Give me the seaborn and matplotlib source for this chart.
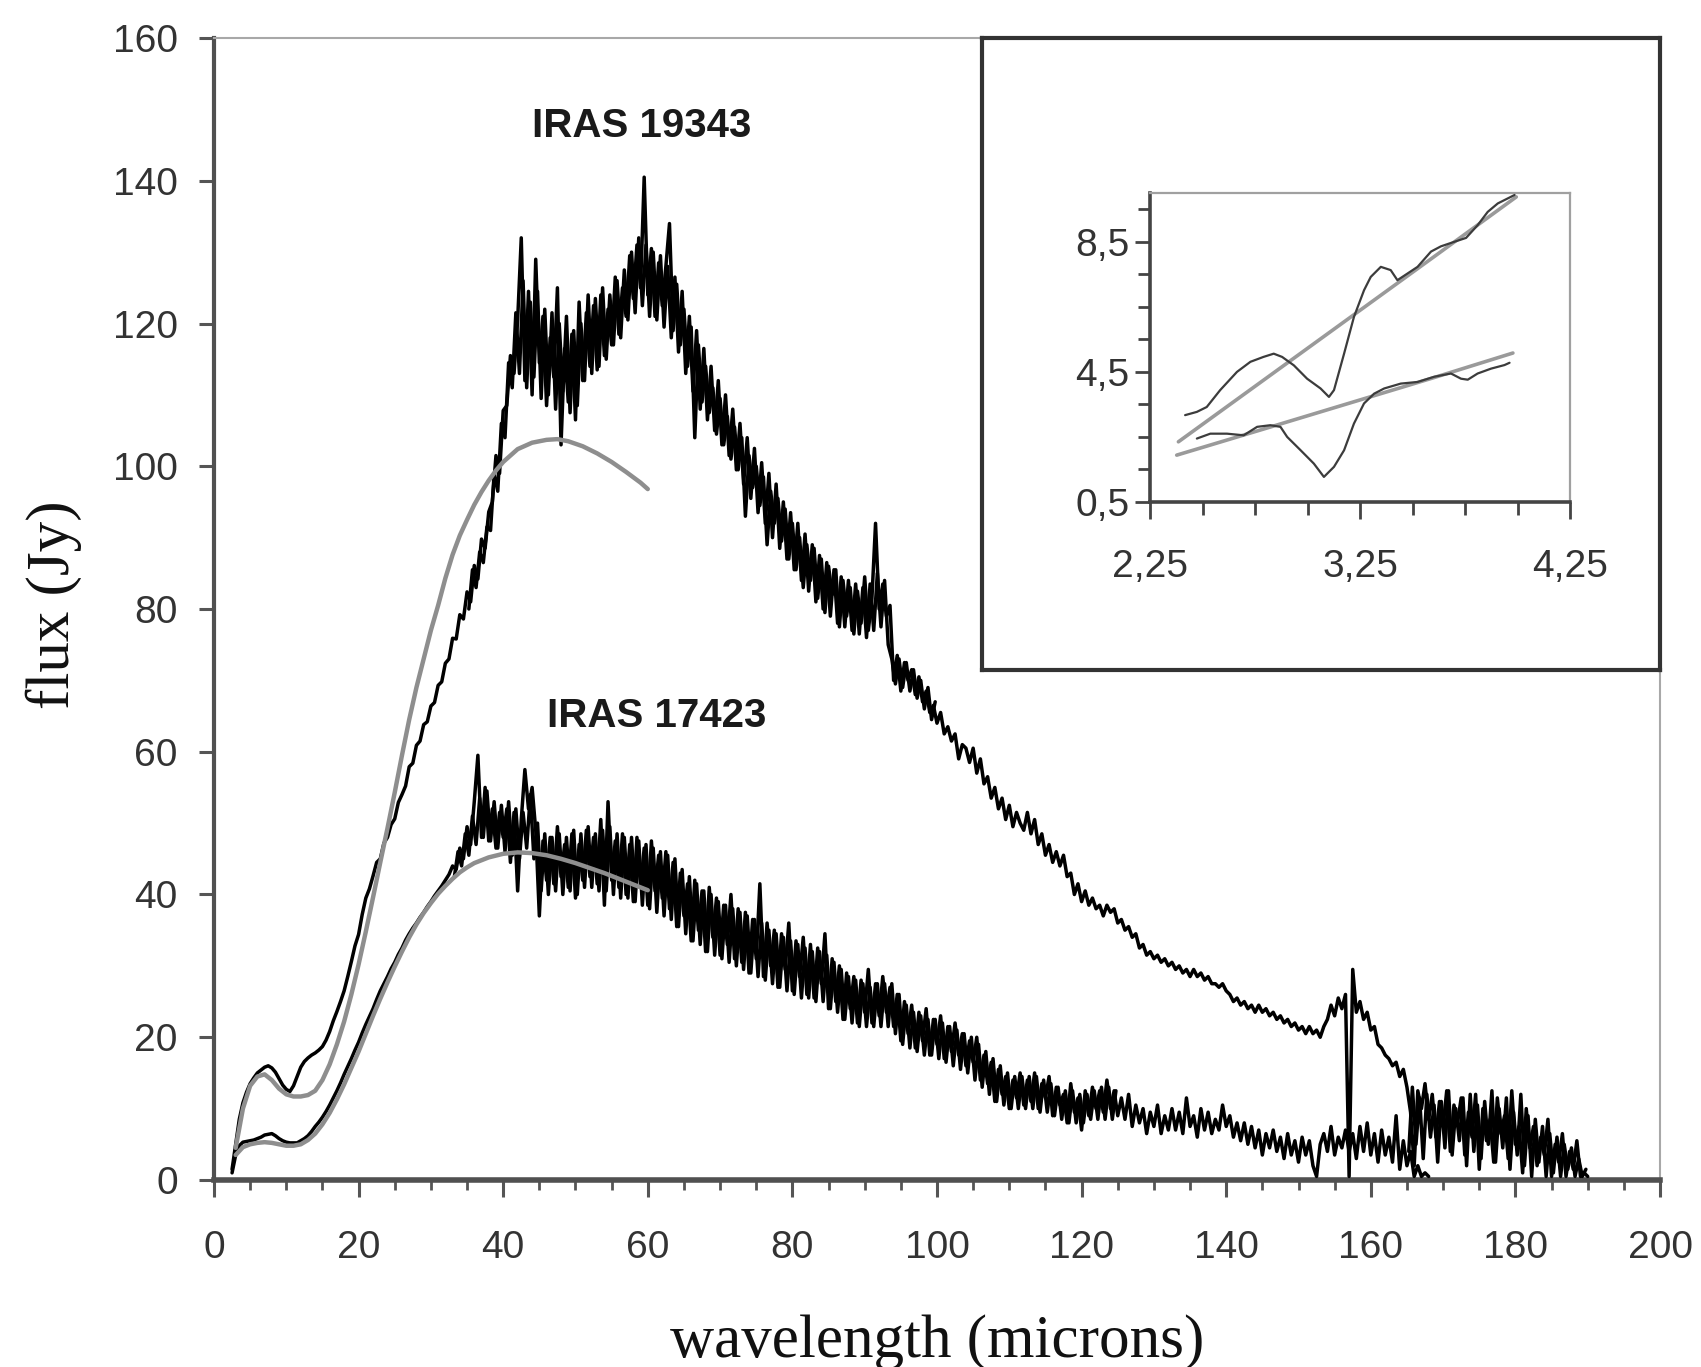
import numpy as np
import pandas as pd
import matplotlib
matplotlib.use("Agg")
import matplotlib.pyplot as plt
import seaborn as sns
from matplotlib.ticker import FixedLocator, FixedFormatter, NullFormatter
from matplotlib import font_manager

# ---------------- data ----------------
# IRAS 19343 spectrum, sampled every 0.5 micron starting at 2.5 micron
WAVE_START = 2.5
WAVE_STEP = 0.5
flux_19343 = [
    1.5, 5.0, 8.5, 10.8, 12.3, 13.5, 14.3, 15.0, 15.4, 15.8, 16.0, 15.7, 15.1, 14.2, 13.3, 12.7, 12.4, 13.2, 14.5, 15.8,
    16.6, 17.1, 17.5, 17.8, 18.2, 18.7, 19.6, 20.8, 22.3, 23.6, 25.0, 26.5, 28.5, 30.6, 32.8, 34.4, 37.2, 39.5, 40.8, 42.6,
    44.5, 45.0, 47.2, 48.0, 49.8, 50.6, 52.9, 54.0, 55.2, 57.9, 58.4, 60.9, 61.5, 63.8, 64.2, 66.4, 66.9, 69.3, 69.8, 72.4,
    73.0, 75.9, 75.8, 79.2, 78.6, 82.4, 81.0, 86.1, 84.2, 89.8, 88.5, 93.6, 95.0, 101.5, 99.0, 107.8, 108.5, 115.5, 113.0, 120.5,
    132.0, 112.0, 124.5, 110.0, 129.0, 114.5, 121.0, 108.5, 118.0, 112.5, 125.0, 103.0, 116.5, 109.0, 118.5, 106.5, 123.0, 112.0, 121.5, 114.0,
    122.5, 113.5, 124.0, 115.5, 122.0, 117.0, 126.5, 118.5, 125.0, 121.0, 129.5, 123.5, 131.0, 125.0, 140.5, 124.0, 130.5, 121.0, 128.5, 122.5,
    128.0, 134.0, 119.0, 125.5, 117.0, 122.0, 114.0, 119.5, 104.0, 117.0, 109.0, 114.0, 107.5, 111.0, 104.5, 109.5, 103.0, 107.0, 101.0, 105.5,
    99.5, 104.0, 93.0, 101.5, 97.0, 100.0, 94.5, 98.5, 89.0, 96.5, 92.0, 95.5, 89.5, 94.0, 87.0, 92.0, 85.5, 90.0, 83.0, 89.0,
    84.0, 88.5, 81.5, 87.0, 79.5, 86.0, 82.0, 85.5, 77.5, 84.0, 79.0, 83.0, 76.5, 82.5, 78.0, 84.5, 77.0, 81.5, 92.0, 80.0,
    83.5, 79.0, 80.5, 70.0, 73.5, 68.5, 72.5, 70.0, 71.5, 68.0, 70.5, 67.0, 68.5, 65.5, 66.5, 64.0, 65.5, 62.5, 63.5, 61.5,
    62.5, 59.0, 61.0, 60.5, 58.5, 60.5, 57.0, 59.0, 55.5, 56.5, 53.5, 55.0, 52.0, 53.5, 50.5, 52.5, 49.5, 51.5, 50.0, 49.0,
    51.5, 48.5, 50.5, 47.0, 48.5, 45.5, 47.0, 44.5, 46.0, 44.0, 45.5, 42.5, 43.0, 40.0, 41.5, 39.0, 40.5, 38.5, 39.5, 38.0,
    38.5, 37.0, 38.5, 37.5, 38.0, 36.0, 36.5, 35.0, 35.5, 34.0, 34.5, 32.5, 33.0, 31.5, 32.0, 31.0, 31.5, 30.5, 31.0, 30.0,
    30.5, 29.5, 30.0, 29.0, 29.5, 28.5, 29.5, 28.5, 29.0, 28.0, 28.5, 27.5, 27.5, 27.0, 27.5, 26.5, 26.0, 25.0, 25.5, 24.5,
    25.0, 24.0, 24.5, 23.5, 24.5, 23.5, 24.0, 23.0, 23.5, 22.5, 23.0, 22.0, 22.5, 21.5, 22.0, 21.0, 21.5, 20.5, 21.5, 20.5,
    21.0, 20.0, 21.5, 22.5, 24.5, 23.0, 25.5, 24.0, 26.0, 0.5, 29.5, 23.5, 25.0, 22.5, 23.5, 21.0, 21.5, 19.0, 18.5, 17.5,
    17.0, 16.0, 16.5, 14.5, 15.5, 13.0, 9.5, 2.0, 12.5, 10.0, 13.5, 8.5, 12.0, 6.0, 11.0, 7.5, 12.5, 4.0, 10.5, 8.0,
    11.5, 3.5, 9.5, 6.0, 12.0, 1.5, 10.0, 5.5, 8.5, 2.5, 11.5, 6.5, 9.0, 3.0, 12.5, 5.0, 7.5, 1.0, 10.0, 4.5,
    7.5, 2.0, 6.0, 3.5, 8.5, 0.5, 5.0, 2.5, 6.5, 0.5, 4.0, 1.5, 5.5, 0.5, 1.0, 0.5,
]
# second (interleaved) scan of IRAS 19343 in the noisy ranges
SCAN2_19343_A_START = 35.25
scan2_19343_a = [
    80.0, 85.5, 83.0, 88.0, 86.5, 91.5, 91.0, 99.0, 96.5, 106.0, 104.0, 114.5, 111.0, 121.5, 113.0, 126.0, 111.0, 123.0, 112.5, 124.5,
    109.5, 122.0, 110.0, 121.5, 108.0, 120.0, 110.5, 121.0, 107.5, 119.0, 108.5, 120.0, 112.0, 124.0, 113.0, 123.5, 114.0, 125.0, 115.0, 124.0,
    117.0, 126.0, 118.0, 127.5, 120.5, 130.0, 121.5, 132.0, 122.5, 131.0, 121.0, 130.0, 120.5, 129.5, 119.5, 128.0, 118.0, 126.5, 116.0, 124.5,
    113.0, 121.0, 110.5, 119.0, 108.0, 116.5, 106.5, 114.0, 105.0, 112.0, 103.0, 110.0, 101.5, 108.0, 99.5, 106.0, 97.5, 104.0, 95.5, 102.5,
    93.5, 100.5, 92.0, 99.0, 90.0, 97.5, 88.5, 95.0, 87.0, 93.5, 85.5, 92.0, 84.0, 90.5, 82.5, 89.0, 81.0, 87.5, 80.0, 86.5,
    79.0, 85.5, 78.0, 84.5, 77.5, 84.0, 77.0, 83.5, 76.5, 83.0, 76.0, 83.5, 77.0, 85.0, 77.5, 84.0, 75.0, 73.0, 69.5, 73.0,
    69.0, 72.5, 68.5, 71.5, 67.5, 70.0, 66.0, 69.0, 64.5, 67.0,
]
SCAN2_19343_B_START = 165.25
scan2_19343_b = [
    4.0, 13.0, 5.0, 11.5, 3.0, 12.0, 6.0, 10.5, 2.5, 11.0, 4.5, 12.5, 3.5, 10.0, 5.5, 11.5, 2.0, 12.0, 4.0, 10.5,
    3.0, 11.0, 5.0, 12.5, 2.5, 10.0, 4.5, 11.5, 1.5, 9.5, 3.5, 12.0, 2.0, 9.0, 0.5, 8.5, 2.5, 7.5, 0.5, 6.5,
    1.0, 6.0, 0.5, 5.0, 1.5, 4.5, 0.5, 3.0, 0.5, 1.5,
]

# IRAS 17423 spectrum, same sampling
flux_17423 = [
    1.0, 3.5, 4.8, 5.3, 5.4, 5.5, 5.6, 5.8, 6.0, 6.3, 6.4, 6.5, 6.2, 5.8, 5.5, 5.3, 5.2, 5.2, 5.2, 5.5,
    5.8, 6.2, 6.8, 7.5, 8.1, 8.8, 9.6, 10.5, 11.5, 12.5, 13.6, 14.8, 15.9, 17.0, 18.2, 19.3, 20.6, 21.8, 22.9, 24.0,
    25.3, 26.5, 27.5, 28.5, 29.6, 30.5, 31.6, 32.5, 33.6, 34.5, 35.3, 36.0, 36.8, 37.5, 38.3, 39.0, 39.8, 40.5, 41.2, 42.0,
    42.8, 44.0, 43.5, 46.5, 45.0, 49.5, 47.0, 53.0, 59.5, 48.0, 55.0, 47.5, 52.0, 46.5, 51.5, 48.0, 52.0, 44.5, 51.5, 40.5,
    50.5, 57.5, 52.0, 55.0, 49.0, 37.0, 47.5, 42.0, 48.0, 41.5, 49.5, 42.5, 47.0, 41.0, 48.5, 39.5, 47.0, 42.0, 49.0, 42.5,
    48.0, 41.5, 50.5, 38.5, 53.0, 42.0, 47.5, 41.0, 48.5, 40.0, 47.0, 39.0, 48.0, 41.0, 46.5, 38.5, 47.5, 40.5, 45.5, 39.5,
    46.0, 38.0, 44.5, 35.5, 43.0, 37.0, 41.5, 33.5, 42.0, 35.0, 40.5, 32.0, 41.0, 34.0, 39.5, 31.5, 38.5, 33.0, 40.0, 31.0,
    38.0, 30.5, 37.5, 29.0, 36.5, 31.0, 41.5, 28.5, 36.0, 30.0, 35.0, 27.0, 34.5, 29.5, 36.0, 26.5, 33.5, 28.5, 34.0, 26.0,
    33.0, 25.5, 32.5, 27.5, 34.5, 24.0, 31.0, 25.0, 30.0, 22.5, 29.0, 24.0, 28.5, 22.0, 28.0, 23.5, 29.5, 22.0, 27.5, 23.0,
    28.5, 23.5, 27.0, 21.5, 26.0, 19.5, 25.0, 20.5, 24.5, 18.5, 23.5, 19.5, 24.0, 17.5, 22.5, 19.0, 23.0, 17.0, 21.5, 18.0,
    22.0, 17.5, 20.5, 16.0, 19.5, 16.5, 20.0, 14.0, 17.5, 13.5, 16.5, 11.0, 15.5, 12.0, 14.5, 10.0, 14.0, 11.5, 15.0, 10.5,
    14.0, 11.0, 15.0, 10.0, 13.5, 11.5, 14.5, 9.0, 13.0, 10.5, 12.0, 8.0, 13.5, 9.5, 11.5, 7.0, 12.5, 9.0, 13.0, 10.0,
    12.5, 9.5, 14.0, 10.0, 12.5, 9.0, 11.5, 8.5, 12.0, 7.5, 10.5, 8.0, 10.0, 6.5, 9.5, 7.5, 10.5, 6.5, 9.0, 7.0,
    10.0, 7.0, 9.5, 6.5, 11.5, 7.5, 9.0, 6.0, 10.0, 7.0, 9.5, 6.5, 8.5, 7.0, 10.5, 7.5, 9.0, 6.0, 8.0, 5.5,
    8.0, 5.0, 7.5, 4.5, 7.0, 3.5, 6.5, 4.5, 7.0, 4.0, 6.0, 3.0, 6.5, 3.5, 5.5, 2.5, 6.0, 3.5, 5.5, 2.0,
    0.5, 5.0, 6.5, 4.0, 7.5, 3.5, 6.0, 4.5, 7.0, 4.0, 6.5, 3.0, 7.5, 4.0, 8.0, 3.5, 6.5, 2.5, 7.0, 3.5,
    6.0, 2.5, 9.0, 1.5, 5.5, 2.0, 4.0, 0.5, 2.0, 0.5, 1.0, 0.5,
]
# second (interleaved) scan of IRAS 17423 in the noisy range
SCAN2_17423_START = 33.25
scan2_17423 = [
    42.5, 46.0, 44.0, 48.5, 45.5, 51.0, 47.0, 53.5, 48.0, 54.5, 47.5, 53.0, 46.5, 52.5, 46.0, 53.0, 45.5, 52.0, 45.0, 51.5,
    46.5, 54.0, 45.0, 50.0, 40.5, 48.5, 40.0, 48.0, 40.5, 48.5, 40.0, 48.0, 40.5, 49.0, 40.0, 48.5, 41.0, 49.5, 41.0, 48.5,
    40.5, 49.0, 40.5, 49.5, 40.0, 48.5, 39.5, 48.0, 39.5, 48.0, 39.0, 47.5, 38.5, 47.0, 38.0, 46.5, 37.5, 46.0, 37.0, 45.5,
    36.5, 45.0, 35.5, 43.5, 34.5, 42.5, 33.5, 41.5, 33.0, 40.5, 32.0, 40.0, 31.5, 39.0, 31.0, 38.5, 30.5, 38.0, 30.0, 37.5,
    29.5, 37.0, 29.0, 36.5, 28.5, 36.0, 28.0, 35.0, 27.5, 34.5, 27.0, 34.0, 26.5, 33.5, 26.0, 33.0, 25.5, 32.5, 25.5, 32.0,
    25.0, 32.0, 25.0, 31.5, 24.0, 30.5, 23.5, 29.5, 22.5, 28.5, 22.0, 28.0, 21.5, 27.5, 21.5, 27.0, 21.5, 27.5, 21.5, 27.5,
    21.5, 27.5, 20.5, 26.0, 19.0, 24.5, 18.5, 23.5, 18.0, 23.0, 17.5, 22.5, 17.5, 22.5, 17.0, 22.0, 16.5, 21.5, 16.0, 21.0,
    15.5, 20.5, 15.0, 20.0, 14.0, 19.0, 13.0, 18.0, 12.0, 17.0, 11.0, 16.0, 10.5, 15.0, 10.0, 14.5, 10.0, 14.5, 10.0, 14.5,
    10.0, 14.5, 9.5, 14.0, 9.5, 13.5, 9.0, 13.0, 8.5, 12.5, 8.0, 12.5, 8.0, 12.0, 8.0, 12.0, 8.5, 12.5, 8.5, 13.0,
    8.5, 13.0, 8.5, 12.5,
]

# model curves (grey)
model_19343_wave = [3, 4, 5, 6, 7, 8, 9, 10, 11, 12, 13, 14, 15, 16, 17, 18, 19, 20, 21, 22,
                    23, 24, 25, 26, 27, 28, 29, 30, 31, 32, 33, 34, 35, 36, 37, 38, 39, 40,
                    42, 44, 46, 47.5, 49, 51, 53, 55, 57, 59, 60]
model_19343_flux = [4.5, 10.0, 13.2, 14.5, 14.8, 14.0, 12.8, 12.0, 11.7, 11.7,
                    11.9, 12.5, 14.0, 16.2, 19.0, 22.2, 26.0, 30.2, 34.8, 39.6,
                    44.5, 49.3, 54.3, 59.5, 64.5, 69.0, 73.0, 77.0, 80.5, 84.3,
                    87.6, 90.3, 92.5, 94.6, 96.4, 98.0, 99.4, 100.6,
                    102.4, 103.3, 103.7, 103.8, 103.5, 102.8, 101.8, 100.6, 99.2, 97.7, 96.8]

model_17423_wave = [3, 4, 5, 6, 7, 8, 9, 10, 11, 12, 13, 14, 15, 16, 17, 18, 19, 20, 21, 22,
                    23, 24, 25, 26, 27, 28, 29, 30, 31, 32, 33, 34, 35, 36,
                    38, 40, 42, 44, 46, 48, 50, 52, 54, 56, 58, 60]
model_17423_flux = [3.5, 4.6, 5.0, 5.2, 5.3, 5.2, 5.0, 4.8, 4.8, 5.0,
                    5.6, 6.5, 7.8, 9.4, 11.3, 13.4, 15.7, 18.0, 20.5, 23.0,
                    25.4, 27.7, 29.9, 32.0, 34.0, 35.8, 37.4, 38.8, 40.1, 41.2,
                    42.2, 43.1, 43.8, 44.4,
                    45.2, 45.7, 45.9, 45.8, 45.5, 45.0, 44.4, 43.7, 43.0, 42.2, 41.4, 40.6]

# inset (near-IR detail)
inset_up_wave = [2.417, 2.473, 2.52, 2.584, 2.664, 2.728, 2.79, 2.839, 2.879, 2.935, 2.998, 3.062,
                 3.102, 3.126, 3.174, 3.221, 3.269, 3.301, 3.349, 3.396, 3.428, 3.524, 3.588,
                 3.635, 3.699, 3.755, 3.81, 3.858, 3.906, 3.986]
inset_up_flux = [3.17, 3.27, 3.42, 3.94, 4.5, 4.81, 4.96, 5.06, 4.96, 4.7, 4.29, 3.99,
                 3.73, 3.94, 5.06, 6.19, 7.01, 7.42, 7.73, 7.63, 7.32, 7.73, 8.2,
                 8.36, 8.5, 8.62, 9.01, 9.42, 9.68, 9.94]
inset_low_wave = [2.473, 2.537, 2.616, 2.696, 2.76, 2.823, 2.871, 2.903, 2.967, 3.03, 3.078, 3.126,
                  3.174, 3.221, 3.269, 3.317, 3.365, 3.444, 3.524, 3.603, 3.683, 3.731, 3.763,
                  3.81, 3.874, 3.938, 3.962]
inset_low_flux = [2.45, 2.6, 2.6, 2.55, 2.81, 2.86, 2.81, 2.5, 2.09, 1.68, 1.27, 1.58,
                  2.09, 2.91, 3.53, 3.83, 3.99, 4.14, 4.19, 4.35, 4.45, 4.29, 4.26,
                  4.45, 4.6, 4.71, 4.78]
inset_model_up_wave = [2.385, 2.8, 3.2, 3.6, 3.994]
inset_model_up_flux = [2.35, 4.29, 6.16, 8.03, 9.88]
inset_model_low_wave = [2.377, 2.8, 3.2, 3.6, 3.978]
inset_model_low_flux = [1.94, 2.76, 3.54, 4.32, 5.08]

x_major = [0, 20, 40, 60, 80, 100, 120, 140, 160, 180, 200]
y_major = [0, 20, 40, 60, 80, 100, 120, 140, 160]
inset_x_major = [2.25, 3.25, 4.25]
inset_x_labels = ["2,25", "3,25", "4,25"]
inset_y_major = [0.5, 4.5, 8.5]
inset_y_labels = ["0,5", "4,5", "8,5"]

# ---------------- styling ----------------
sns.set_theme(style="white")
available = {f.name for f in font_manager.fontManager.ttflist}
if "Liberation Sans Narrow" in available:
    TICK_FAMILY = ["Liberation Sans Narrow", "DejaVu Sans"]
    TICK_SIZE = 32
else:
    TICK_FAMILY = ["Liberation Sans", "DejaVu Sans"]
    TICK_SIZE = 28
SANS = ["Liberation Sans", "DejaVu Sans"]
SERIF = ["Liberation Serif", "DejaVu Serif"]
plt.rcParams["font.family"] = SANS


def series(start, values):
    return pd.DataFrame({"wave": start + WAVE_STEP * np.arange(len(values)), "flux": values})


spectra = [
    series(WAVE_START, flux_17423),
    series(SCAN2_17423_START, scan2_17423),
    series(WAVE_START, flux_19343),
    series(SCAN2_19343_A_START, scan2_19343_a),
    series(SCAN2_19343_B_START, scan2_19343_b),
]

fig = plt.figure(figsize=(17.01, 13.67), dpi=100)
ax = fig.add_axes([0.1258, 0.1368, 0.8501, 0.8354])

for df in spectra:
    sns.lineplot(data=df, x="wave", y="flux", ax=ax, color="black", linewidth=2.5,
                 estimator=None, sort=False, legend=False, zorder=3)
sns.lineplot(x=model_19343_wave, y=model_19343_flux, ax=ax, color="#8e8e8e", linewidth=3.2,
             estimator=None, sort=False, legend=False, zorder=4)
sns.lineplot(x=model_17423_wave, y=model_17423_flux, ax=ax, color="#8e8e8e", linewidth=3.2,
             estimator=None, sort=False, legend=False, zorder=4)

ax.set_xlim(0, 200)
ax.set_ylim(0, 160)
ax.xaxis.set_major_locator(FixedLocator(x_major))
ax.xaxis.set_minor_locator(FixedLocator([v for v in range(5, 200, 5) if v % 20 != 0]))
ax.yaxis.set_major_locator(FixedLocator(y_major))
ax.set_xlabel("")
ax.set_ylabel("")
ax.tick_params(axis="x", which="major", direction="out", length=12, width=2.2, color="#555555",
               pad=24, labelsize=TICK_SIZE, labelcolor="#333333", bottom=True)
ax.tick_params(axis="x", which="minor", direction="out", length=7, width=2.0, color="#555555", bottom=True)
ax.tick_params(axis="y", which="major", direction="out", length=11, width=2.2, color="#555555",
               pad=15, labelsize=TICK_SIZE, labelcolor="#333333", left=True)
for lab in ax.get_xticklabels() + ax.get_yticklabels():
    lab.set_fontfamily(TICK_FAMILY)

for side in ["left", "bottom"]:
    ax.spines[side].set_color("#505050")
ax.spines["left"].set_linewidth(3.0)
ax.spines["bottom"].set_linewidth(4.0)
for side in ["top", "right"]:
    ax.spines[side].set_color("#a8a8a8")
    ax.spines[side].set_linewidth(1.5)
ax.grid(False)

ax.text(59.2, 147.7, "IRAS 19343", ha="center", va="center", fontsize=29,
        fontweight="bold", color="#1a1a1a", family=SANS, zorder=5)
ax.text(61.2, 65.0, "IRAS 17423", ha="center", va="center", fontsize=29,
        fontweight="bold", color="#1a1a1a", family=SANS, zorder=5)

fig.text(0.551, 0.018, "wavelength (microns)", ha="center", va="center",
         fontsize=44, family=SERIF, color="#111111")
fig.text(0.0318, 0.5574, "flux (Jy)", ha="center", va="center", rotation=90,
         fontsize=44, family=SERIF, color="#111111")

# ---------------- inset frame ----------------
box = fig.add_axes([0.5773, 0.5099, 0.3986, 0.4623])
box.set_facecolor("white")
box.set_xticks([])
box.set_yticks([])
for s in box.spines.values():
    s.set_color("#333333")
    s.set_linewidth(3.0)

iax = fig.add_axes([0.6761, 0.6328, 0.2469, 0.2260])
iax.set_facecolor("white")
sns.lineplot(x=inset_model_up_wave, y=inset_model_up_flux, ax=iax, color="#9a9a9a", linewidth=2.6,
             estimator=None, sort=False, legend=False, zorder=2)
sns.lineplot(x=inset_model_low_wave, y=inset_model_low_flux, ax=iax, color="#9a9a9a", linewidth=2.6,
             estimator=None, sort=False, legend=False, zorder=2)
sns.lineplot(x=inset_up_wave, y=inset_up_flux, ax=iax, color="#3c3c3c", linewidth=1.6,
             estimator=None, sort=False, legend=False, zorder=3)
sns.lineplot(x=inset_low_wave, y=inset_low_flux, ax=iax, color="#3c3c3c", linewidth=1.6,
             estimator=None, sort=False, legend=False, zorder=3)
iax.set_xlim(2.25, 4.25)
iax.set_ylim(0.5, 10.0)
iax.set_xlabel("")
iax.set_ylabel("")
iax.xaxis.set_major_locator(FixedLocator(inset_x_major))
iax.xaxis.set_major_formatter(FixedFormatter(inset_x_labels))
iax.xaxis.set_minor_locator(FixedLocator([2.5, 2.75, 3.0, 3.5, 3.75, 4.0]))
iax.xaxis.set_minor_formatter(NullFormatter())
iax.yaxis.set_major_locator(FixedLocator(inset_y_major))
iax.yaxis.set_major_formatter(FixedFormatter(inset_y_labels))
iax.yaxis.set_minor_locator(FixedLocator([1.5, 2.5, 3.5, 5.5, 6.5, 7.5, 9.5]))
iax.yaxis.set_minor_formatter(NullFormatter())
iax.tick_params(axis="x", which="major", direction="out", length=12, width=2.0, color="#444444",
                pad=22, labelsize=28, labelcolor="#333333", bottom=True)
iax.tick_params(axis="x", which="minor", direction="out", length=9, width=2.0, color="#444444", bottom=True)
iax.tick_params(axis="y", which="major", direction="out", length=11, width=2.0, color="#444444",
                pad=4, labelsize=28, labelcolor="#333333", left=True)
iax.tick_params(axis="y", which="minor", direction="out", length=9, width=2.0, color="#444444", left=True)
for lab in iax.get_xticklabels() + iax.get_yticklabels():
    lab.set_fontfamily(SANS)
for side in ["left", "bottom"]:
    iax.spines[side].set_color("#444444")
    iax.spines[side].set_linewidth(2.6)
for side in ["top", "right"]:
    iax.spines[side].set_color("#a0a0a0")
    iax.spines[side].set_linewidth(1.6)
iax.grid(False)

fig.savefig("out.png", dpi=100, facecolor="white")
